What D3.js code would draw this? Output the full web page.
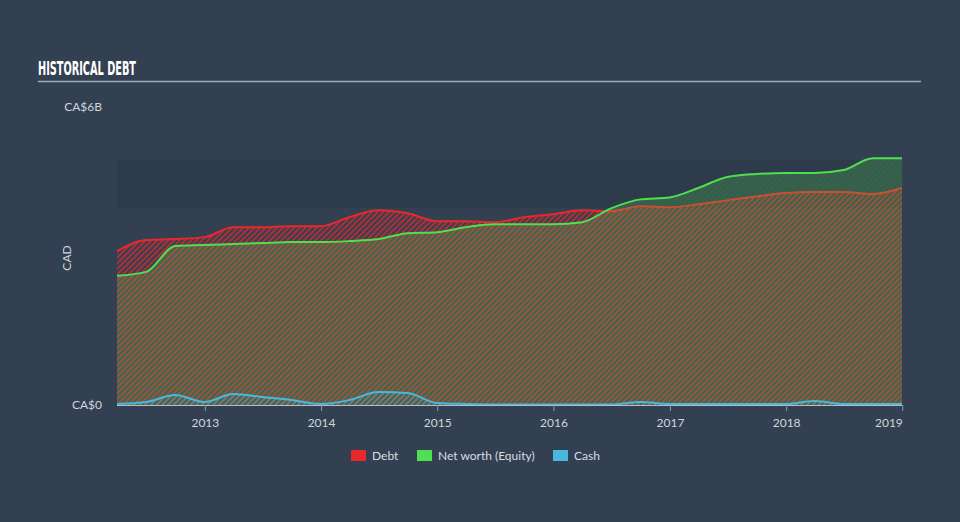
<!DOCTYPE html>
<html>
<head>
<meta charset="utf-8">
<script src="https://cdn.jsdelivr.net/npm/d3@7"></script>
<style>
  html, body { margin: 0; padding: 0; background: #334051; }
  svg { display: block; }
</style>
</head>
<body>
<svg id="chart" width="960" height="522"></svg>
<script>
// ---- data ----
const dates = ["2012-03-31","2012-06-30","2012-09-30","2012-12-31",
  "2013-03-31","2013-06-30","2013-09-30","2013-12-31",
  "2014-03-31","2014-06-30","2014-09-30","2014-12-31",
  "2015-03-31","2015-06-30","2015-09-30","2015-12-31",
  "2016-03-31","2016-06-30","2016-09-30","2016-12-31",
  "2017-03-31","2017-06-30","2017-09-30","2017-12-31",
  "2018-03-31","2018-06-30","2018-09-30","2018-12-31"];
const debt = [3.10,3.32,3.34,3.38, 3.58,3.58,3.60,3.60, 3.78,3.92,3.86,3.70,
  3.70,3.68,3.78,3.84, 3.92,3.90,4.00,3.98, 4.04,4.12,4.20,4.27, 4.29,4.29,4.25,4.37];
const equity = [2.60,2.68,3.20,3.22, 3.24,3.26,3.28,3.28, 3.30,3.34,3.46,3.48,
  3.58,3.64,3.64,3.64, 3.68,3.96,4.14,4.18, 4.37,4.59,4.65,4.67, 4.67,4.73,4.97,4.97];
const cash = [0.02,0.06,0.20,0.06, 0.22,0.16,0.10,0.02, 0.10,0.26,0.24,0.04,
  0.02,0.01,0.01,0.01, 0.01,0.01,0.06,0.02, 0.02,0.02,0.02,0.02, 0.08,0.02,0.02,0.02];
const xTickYears = ["2013","2014","2015","2016","2017","2018","2019"];
const yTickLabels = [{v: 0, t: "CA$0"}, {v: 6, t: "CA$6B"}];
const legendItems = [{name: "Debt", color: "#e8282b"}, {name: "Net worth (Equity)", color: "#4fe04f"}, {name: "Cash", color: "#48b8de"}];
const title = "HISTORICAL DEBT";

// ---- setup ----
const parse = d3.timeParse("%Y-%m-%d");
const pts = dates.map((d, i) => ({date: parse(d), debt: debt[i], equity: equity[i], cash: cash[i]}));
const svg = d3.select("#chart");
const W = 960, H = 522;
const mLeft = 117, mRight = 902, mTop = 107, mBottom = 405;

svg.append("rect").attr("width", W).attr("height", H).attr("fill", "#334051");

const x = d3.scaleTime().domain(d3.extent(pts, d => d.date)).range([mLeft, mRight]);
const y = d3.scaleLinear().domain([0, 6]).range([mBottom, mTop]);

// title
svg.append("text").attr("x", 38).attr("y", 75)
  .attr("font-family", "'Liberation Sans Narrow', 'DejaVu Sans Condensed', sans-serif")
  .attr("font-weight", "bold").attr("font-size", 20).attr("fill", "#ffffff")
  .attr("textLength", 98).attr("lengthAdjust", "spacingAndGlyphs")
  .text(title);
svg.append("line").attr("x1", 38).attr("x2", 921).attr("y1", 81.5).attr("y2", 81.5)
  .attr("stroke", "#a0aab4").attr("stroke-width", 1.5);

// band
svg.append("rect").attr("x", mLeft).attr("y", 160).attr("width", mRight - mLeft).attr("height", 48)
  .attr("fill", "#2d3a4a").attr("opacity", 0.8);

// patterns
const defs = svg.append("defs");
const pDebt = defs.append("pattern").attr("id", "pDebt").attr("patternUnits", "userSpaceOnUse")
  .attr("width", 4).attr("height", 4).attr("patternTransform", "rotate(45)");
pDebt.append("rect").attr("x", 0).attr("y", 0).attr("width", 2).attr("height", 4)
  .attr("fill", "#e8282b").attr("fill-opacity", 0.68);
const pEq = defs.append("pattern").attr("id", "pEq").attr("patternUnits", "userSpaceOnUse")
  .attr("width", 4).attr("height", 4).attr("patternTransform", "rotate(45)");
pEq.append("rect").attr("x", 0).attr("y", 0).attr("width", 4).attr("height", 4)
  .attr("fill", "#4fe04f").attr("fill-opacity", 0.2);
pEq.append("rect").attr("x", 2).attr("y", 0).attr("width", 2).attr("height", 4)
  .attr("fill", "#4fe04f").attr("fill-opacity", 0.06);
const pCash = defs.append("pattern").attr("id", "pCash").attr("patternUnits", "userSpaceOnUse")
  .attr("width", 4).attr("height", 4).attr("patternTransform", "rotate(45)");
pCash.append("rect").attr("x", 0).attr("y", 0).attr("width", 2).attr("height", 4)
  .attr("fill", "#48b8de").attr("fill-opacity", 0.35);

const curve = d3.curveMonotoneX;
const area = key => d3.area().x(d => x(d.date)).y0(y(0)).y1(d => y(d[key])).curve(curve);
const line = key => d3.line().x(d => x(d.date)).y(d => y(d[key])).curve(curve);

svg.append("path").datum(pts).attr("d", area("debt")).attr("fill", "url(#pDebt)");
svg.append("path").datum(pts).attr("d", line("debt")).attr("fill", "none")
  .attr("stroke", "#e8282b").attr("stroke-width", 2);
svg.append("path").datum(pts).attr("d", area("equity")).attr("fill", "url(#pEq)");
svg.append("path").datum(pts).attr("d", line("equity")).attr("fill", "none")
  .attr("stroke", "#4fe04f").attr("stroke-width", 2);
svg.append("path").datum(pts).attr("d", area("cash")).attr("fill", "url(#pCash)");
svg.append("path").datum(pts).attr("d", line("cash")).attr("fill", "none")
  .attr("stroke", "#48b8de").attr("stroke-width", 2);

// x axis
const xTicks = xTickYears.map(s => parse(s + "-01-01"));
const xAxis = d3.axisBottom(x).tickValues(xTicks).tickFormat(d3.timeFormat("%Y"))
  .tickSize(6).tickSizeOuter(0);
const gx = svg.append("g").attr("transform", `translate(0,${mBottom})`).call(xAxis);
gx.select(".domain").attr("stroke", "#b4bec8").attr("stroke-width", 1.2)
  .attr("d", `M${mLeft},0.5H${mRight}`);
gx.selectAll(".tick line").attr("stroke", "#8a96a3");
gx.selectAll(".tick text").attr("fill", "#d0d6dc").attr("font-size", 12)
  .attr("font-family", "Lato, 'Open Sans', sans-serif").attr("dy", "1.1em");
gx.selectAll(".tick text").filter((d, i) => i === xTicks.length - 1).attr("text-anchor", "end");

// y labels
svg.selectAll("text.ylab").data(yTickLabels).enter().append("text").attr("class", "ylab")
  .attr("x", 102).attr("y", d => y(d.v)).attr("dy", "0.35em").attr("text-anchor", "end")
  .attr("fill", "#d0d6dc").attr("font-size", 12).attr("font-family", "Lato, 'Open Sans', sans-serif")
  .text(d => d.t);
svg.append("text").attr("transform", "translate(67,258) rotate(-90)").attr("text-anchor", "middle")
  .attr("dy", "0.35em").attr("fill", "#d0d6dc").attr("font-size", 12)
  .attr("font-family", "Lato, 'Open Sans', sans-serif").text("CAD");

// legend
const legendX = [351, 417, 553];
const lg = svg.selectAll("g.leg").data(legendItems).enter().append("g").attr("class", "leg")
  .attr("transform", (d, i) => `translate(${legendX[i]},450)`);
lg.append("rect").attr("width", 15).attr("height", 11).attr("fill", d => d.color);
lg.append("text").attr("x", 21).attr("y", 5.5).attr("dy", "0.35em").attr("fill", "#d8dde2")
  .attr("font-size", 12).attr("font-family", "Lato, 'Open Sans', sans-serif").text(d => d.name);
</script>
</body>
</html>
